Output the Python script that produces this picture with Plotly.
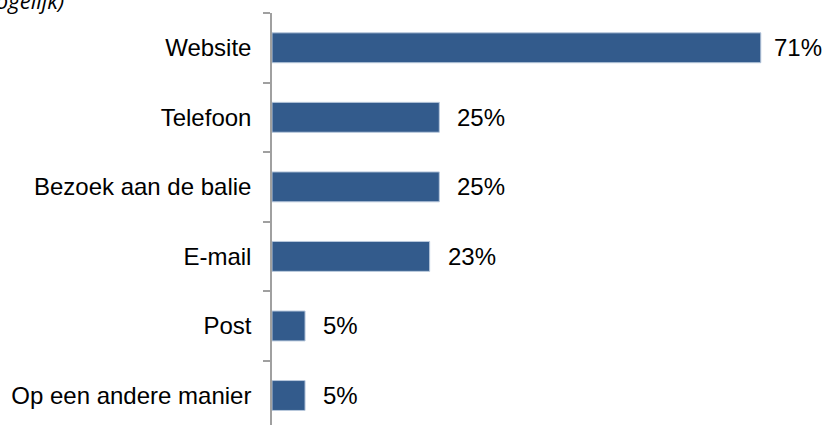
import plotly.graph_objects as go

categories = ["Website", "Telefoon", "Bezoek aan de balie", "E-mail", "Post", "Op een andere manier"]
values = [71, 24.3, 24.3, 22.9, 4.8, 4.8]
value_labels = ["71%", "25%", "25%", "23%", "5%", "5%"]
subtitle = "(meerdere antwoorden mogelijk)"

bar_color = "#335b8c"
font_family = "Liberation Sans, Arial, sans-serif"
x_max = 78

fig = go.Figure()
fig.add_trace(go.Bar(
    y=categories, x=values, orientation="h",
    marker=dict(color=bar_color, line=dict(color="#b8c8dc", width=1)),
    width=0.43,
    hoverinfo="skip",
))

for c, v, t in zip(categories, values, value_labels):
    shift = 16 if v < 0.8 * x_max else 11
    fig.add_annotation(x=v, y=c, text=t, showarrow=False, xanchor="left",
                       xshift=shift, font=dict(family=font_family, size=24, color="#000000"))

fig.add_annotation(xref="paper", yref="paper", x=-0.3836, y=0.9905, xanchor="right", yanchor="bottom",
                   text="<i>" + subtitle + "</i>", showarrow=False,
                   font=dict(family="Open Sans, sans-serif", size=22, color="#000000"))

fig.update_layout(
    width=822, height=425,
    margin=dict(l=272, r=13, t=13, b=0),
    paper_bgcolor="white", plot_bgcolor="white",
    showlegend=False,
)
fig.update_xaxes(range=[0, x_max], visible=False, showgrid=False, zeroline=False)
fig.update_yaxes(
    categoryorder="array", categoryarray=categories,
    range=[5.424, -0.5],
    showline=True, linecolor="#a0a0a0", linewidth=1.5,
    ticks="outside", tickson="boundaries", ticklen=7, tickcolor="#a0a0a0", tickwidth=1.5,
    showgrid=False, zeroline=False,
    tickfont=dict(family=font_family, size=24, color="#000000"),
    ticklabelstandoff=14,
)

fig.write_html("out.html")
